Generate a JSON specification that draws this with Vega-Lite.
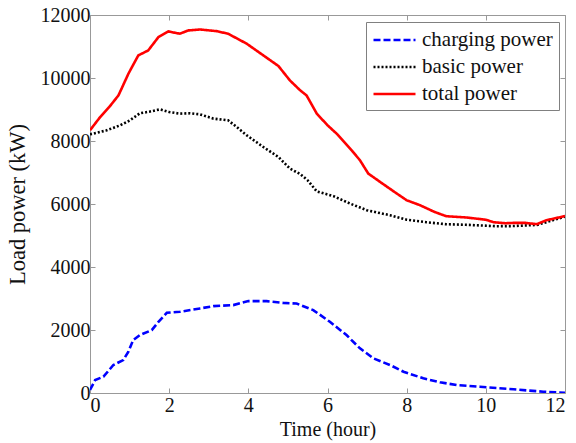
{
  "$schema": "https://vega.github.io/schema/vega-lite/v6.json",
  "autosize": "none",
  "width": 475,
  "height": 378,
  "padding": {"left": 90, "top": 15, "right": 11, "bottom": 50},
  "background": "white",
  "config": {
    "view": {"stroke": null},
    "font": "Liberation Serif",
    "axis": {
      "grid": false,
      "domainColor": "#999999",
      "tickColor": "#999999",
      "tickSize": -5,
      "labelFont": "Liberation Serif",
      "labelFontSize": 20,
      "labelColor": "#111111",
      "titleFont": "Liberation Serif",
      "titleFontSize": 22.5,
      "titleFontWeight": "normal",
      "titleColor": "#111111"
    },
    "legend": {
      "labelFont": "Liberation Serif",
      "labelFontSize": 21,
      "labelColor": "#111111"
    }
  },
  "datasets": {
    "lines": [
      {"t": 0, "v": 95, "series": "charging power"},
      {"t": 0.13, "v": 412, "series": "charging power"},
      {"t": 0.34, "v": 517, "series": "charging power"},
      {"t": 0.59, "v": 888, "series": "charging power"},
      {"t": 0.84, "v": 1046, "series": "charging power"},
      {"t": 0.97, "v": 1310, "series": "charging power"},
      {"t": 1.09, "v": 1680, "series": "charging power"},
      {"t": 1.26, "v": 1839, "series": "charging power"},
      {"t": 1.56, "v": 1997, "series": "charging power"},
      {"t": 1.73, "v": 2261, "series": "charging power"},
      {"t": 1.94, "v": 2546, "series": "charging power"},
      {"t": 2.27, "v": 2578, "series": "charging power"},
      {"t": 2.78, "v": 2685, "series": "charging power"},
      {"t": 3.12, "v": 2758, "series": "charging power"},
      {"t": 3.62, "v": 2790, "series": "charging power"},
      {"t": 4.0, "v": 2917, "series": "charging power"},
      {"t": 4.46, "v": 2917, "series": "charging power"},
      {"t": 4.88, "v": 2860, "series": "charging power"},
      {"t": 5.22, "v": 2840, "series": "charging power"},
      {"t": 5.64, "v": 2632, "series": "charging power"},
      {"t": 6.06, "v": 2261, "series": "charging power"},
      {"t": 6.48, "v": 1839, "series": "charging power"},
      {"t": 6.82, "v": 1417, "series": "charging power"},
      {"t": 7.16, "v": 1100, "series": "charging power"},
      {"t": 7.58, "v": 888, "series": "charging power"},
      {"t": 7.92, "v": 676, "series": "charging power"},
      {"t": 8.42, "v": 466, "series": "charging power"},
      {"t": 8.84, "v": 339, "series": "charging power"},
      {"t": 9.26, "v": 254, "series": "charging power"},
      {"t": 9.85, "v": 200, "series": "charging power"},
      {"t": 10.7, "v": 117, "series": "charging power"},
      {"t": 11.45, "v": 41, "series": "charging power"},
      {"t": 12, "v": 10, "series": "charging power"},

      {"t": 0, "v": 8212, "series": "basic power"},
      {"t": 0.4, "v": 8330, "series": "basic power"},
      {"t": 0.76, "v": 8497, "series": "basic power"},
      {"t": 1.0, "v": 8650, "series": "basic power"},
      {"t": 1.26, "v": 8880, "series": "basic power"},
      {"t": 1.5, "v": 8930, "series": "basic power"},
      {"t": 1.77, "v": 9004, "series": "basic power"},
      {"t": 2.0, "v": 8920, "series": "basic power"},
      {"t": 2.27, "v": 8868, "series": "basic power"},
      {"t": 2.53, "v": 8880, "series": "basic power"},
      {"t": 2.78, "v": 8846, "series": "basic power"},
      {"t": 3.12, "v": 8710, "series": "basic power"},
      {"t": 3.49, "v": 8656, "series": "basic power"},
      {"t": 3.7, "v": 8450, "series": "basic power"},
      {"t": 3.96, "v": 8180, "series": "basic power"},
      {"t": 4.38, "v": 7809, "series": "basic power"},
      {"t": 4.76, "v": 7492, "series": "basic power"},
      {"t": 5.05, "v": 7124, "series": "basic power"},
      {"t": 5.31, "v": 6950, "series": "basic power"},
      {"t": 5.5, "v": 6750, "series": "basic power"},
      {"t": 5.73, "v": 6400, "series": "basic power"},
      {"t": 6.15, "v": 6250, "series": "basic power"},
      {"t": 6.57, "v": 6015, "series": "basic power"},
      {"t": 6.99, "v": 5802, "series": "basic power"},
      {"t": 7.58, "v": 5644, "series": "basic power"},
      {"t": 8.0, "v": 5500, "series": "basic power"},
      {"t": 8.5, "v": 5420, "series": "basic power"},
      {"t": 9.0, "v": 5358, "series": "basic power"},
      {"t": 9.5, "v": 5340, "series": "basic power"},
      {"t": 10.27, "v": 5295, "series": "basic power"},
      {"t": 10.7, "v": 5300, "series": "basic power"},
      {"t": 11.29, "v": 5336, "series": "basic power"},
      {"t": 11.6, "v": 5450, "series": "basic power"},
      {"t": 12, "v": 5600, "series": "basic power"},

      {"t": 0, "v": 8340, "series": "total power"},
      {"t": 0.25, "v": 8750, "series": "total power"},
      {"t": 0.5, "v": 9100, "series": "total power"},
      {"t": 0.72, "v": 9450, "series": "total power"},
      {"t": 0.97, "v": 10135, "series": "total power"},
      {"t": 1.22, "v": 10717, "series": "total power"},
      {"t": 1.47, "v": 10875, "series": "total power"},
      {"t": 1.73, "v": 11300, "series": "total power"},
      {"t": 1.98, "v": 11478, "series": "total power"},
      {"t": 2.27, "v": 11405, "series": "total power"},
      {"t": 2.48, "v": 11510, "series": "total power"},
      {"t": 2.78, "v": 11540, "series": "total power"},
      {"t": 3.2, "v": 11487, "series": "total power"},
      {"t": 3.49, "v": 11405, "series": "total power"},
      {"t": 3.96, "v": 11088, "series": "total power"},
      {"t": 4.38, "v": 10717, "series": "total power"},
      {"t": 4.76, "v": 10380, "series": "total power"},
      {"t": 5.05, "v": 9924, "series": "total power"},
      {"t": 5.31, "v": 9607, "series": "total power"},
      {"t": 5.47, "v": 9448, "series": "total power"},
      {"t": 5.73, "v": 8868, "series": "total power"},
      {"t": 6.0, "v": 8500, "series": "total power"},
      {"t": 6.23, "v": 8234, "series": "total power"},
      {"t": 6.61, "v": 7705, "series": "total power"},
      {"t": 6.82, "v": 7388, "series": "total power"},
      {"t": 7.03, "v": 6966, "series": "total power"},
      {"t": 7.33, "v": 6700, "series": "total power"},
      {"t": 7.75, "v": 6332, "series": "total power"},
      {"t": 8.0, "v": 6119, "series": "total power"},
      {"t": 8.34, "v": 5960, "series": "total power"},
      {"t": 8.7, "v": 5750, "series": "total power"},
      {"t": 9.0, "v": 5612, "series": "total power"},
      {"t": 9.52, "v": 5571, "series": "total power"},
      {"t": 10.0, "v": 5500, "series": "total power"},
      {"t": 10.2, "v": 5420, "series": "total power"},
      {"t": 10.5, "v": 5390, "series": "total power"},
      {"t": 10.7, "v": 5400, "series": "total power"},
      {"t": 11.0, "v": 5400, "series": "total power"},
      {"t": 11.29, "v": 5360, "series": "total power"},
      {"t": 11.53, "v": 5485, "series": "total power"},
      {"t": 11.8, "v": 5560, "series": "total power"},
      {"t": 12, "v": 5620, "series": "total power"}
    ]
  },
  "data": {"name": "lines"},
  "layer": [
    {
      "mark": {"type": "line", "strokeWidth": 2.6, "clip": true},
      "encoding": {
        "x": {
          "field": "t", "type": "quantitative",
          "scale": {"domain": [0, 12], "nice": false, "zero": false},
          "axis": {"title": "Time (hour)", "titleFontSize": 20, "format": "d", "values": [0, 2, 4, 6, 8, 10, 12], "labelPadding": 7, "titlePadding": 4}
        },
        "y": {
          "field": "v", "type": "quantitative",
          "scale": {"domain": [0, 12000], "nice": false},
          "axis": {"title": "Load power (kW)", "format": "d", "values": [0, 2000, 4000, 6000, 8000, 10000, 12000], "labelPadding": 5, "titlePadding": 11}
        },
        "color": {
          "field": "series", "type": "nominal",
          "scale": {"domain": ["charging power", "basic power", "total power"], "range": ["#0000ff", "#000000", "#ff0000"]},
          "legend": {
            "title": null,
            "orient": "none",
            "legendX": 276,
            "legendY": 7,
            "symbolType": "M-1,0H3",
            "symbolSize": 441,
            "symbolStrokeWidth": 2.6,
            "labelOffset": 26,
            "rowPadding": 5,
            "padding": 6,
            "strokeColor": "#808080",
            "fillColor": "white"
          }
        },
        "strokeDash": {
          "field": "series", "type": "nominal",
          "scale": {"domain": ["charging power", "basic power", "total power"], "range": [[7, 3], [2, 2], [1, 0]]},
          "legend": null
        }
      }
    },
    {
      "mark": {"type": "line", "opacity": 0},
      "encoding": {
        "x": {"field": "t", "type": "quantitative", "axis": {"orient": "top", "labels": false, "title": null, "values": [0, 2, 4, 6, 8, 10, 12]}},
        "y": {"field": "v", "type": "quantitative", "axis": {"orient": "right", "labels": false, "title": null, "values": [0, 2000, 4000, 6000, 8000, 10000, 12000]}}
      }
    }
  ],
  "resolve": {"axis": {"x": "independent", "y": "independent"}}
}
